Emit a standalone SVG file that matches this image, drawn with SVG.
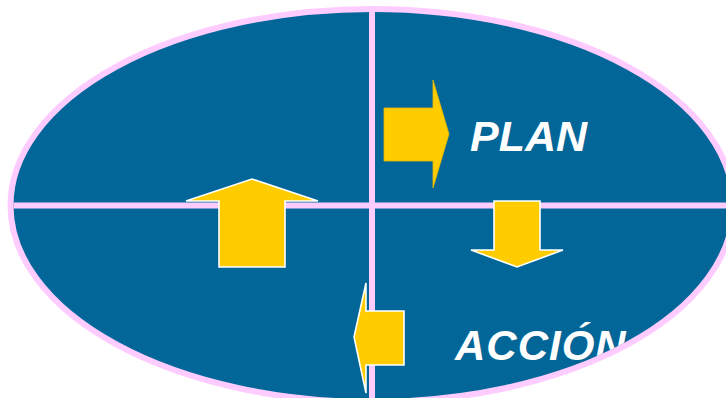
<svg xmlns="http://www.w3.org/2000/svg" width="726" height="398" viewBox="0 0 726 398">
<style>
.pink{stroke:#FFCCFF;stroke-width:6;fill:none}
.arrow{fill:#FFCC00;stroke:#FFFFFF;stroke-width:1.6;stroke-linejoin:miter}
.arrow-plain{fill:#FFCC00;stroke:#E6B800;stroke-width:0.8}
.label{font-family:"Liberation Sans",Arial,sans-serif;font-weight:bold;font-style:italic;fill:#FFFFFF}
</style>
<defs>
<clipPath id="ellClip"><ellipse cx="372" cy="205.5" rx="358.5" ry="193.5"/></clipPath>
</defs>
<rect x="0" y="0" width="726" height="398" fill="#FFFFFF"/>
<g id="background">
<ellipse cx="372" cy="205.5" rx="361.5" ry="196.5" fill="#036699"/>
<g clip-path="url(#ellClip)">
<line class="pink" x1="0" y1="205.5" x2="740" y2="205.5"/>
<line class="pink" x1="372" y1="0" x2="372" y2="410"/>
</g>
</g>
<g id="labels" clip-path="url(#ellClip)">
<g id="node-plan"><text class="label" x="470" y="151" font-size="43">PLAN</text></g>
<g id="node-accion"><text class="label" x="455" y="360" font-size="42" letter-spacing="1">ACCIÓN</text></g>
</g>
<ellipse class="pink" cx="372" cy="205.5" rx="361.5" ry="196.5"/>
<g id="connectors">
<polygon id="arrow-right" class="arrow-plain" points="384,108 433,108 433,80 449,134 433,188 433,161 384,161"/>
<polygon id="arrow-down" class="arrow" points="494,201 540,201 540,250 563,250 517,267 471,250 494,250"/>
<polygon id="arrow-left" class="arrow" points="404,311 404,365 366,365 366,393 354,337 366,283 366,311"/>
<polygon id="arrow-up" class="arrow" points="219,267 285,267 285,201 318,201 252,179 186,201 219,201"/>
</g>
</svg>
